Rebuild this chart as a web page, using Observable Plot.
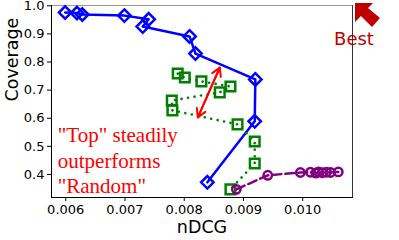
<!DOCTYPE html>
<html><head><meta charset="utf-8">
<script src="https://cdn.jsdelivr.net/npm/d3@7"></script>
<script src="https://cdn.jsdelivr.net/npm/@observablehq/plot@0.6"></script>
<style>body{margin:0;background:#fff}</style>
</head><body><div id="chart"></div>
<script>
const topX = [0.00599, 0.00619, 0.00628, 0.00699, 0.00740, 0.00730, 0.00809, 0.00819, 0.00920, 0.00919, 0.00839];
const topY = [0.976, 0.974, 0.969, 0.965, 0.952, 0.926, 0.891, 0.830, 0.738, 0.589, 0.372];
const randX = [0.00789, 0.00801, 0.00829, 0.00878, 0.00860, 0.00779, 0.00780, 0.00890, 0.00919, 0.00919, 0.00878];
const randY = [0.759, 0.745, 0.731, 0.713, 0.692, 0.663, 0.628, 0.578, 0.517, 0.439, 0.347];
const thirdX = [0.00888, 0.00941, 0.00996, 0.01013, 0.01022, 0.01027, 0.01033, 0.01040, 0.01047, 0.01060];
const thirdY = [0.347, 0.397, 0.407, 0.408, 0.405, 0.409, 0.406, 0.408, 0.407, 0.409];
const xTicks = [0.006, 0.007, 0.008, 0.009, 0.010];
const yTicks = [0.4, 0.5, 0.6, 0.7, 0.8, 0.9, 1.0];
const arrowEndsX = [0.00860, 0.00823];
const arrowEndsY = [0.780, 0.603];
const noteText = "\"Top\" steadily\noutperforms\n\"Random\"";
const noteX = 0.005865, noteY = 0.453;

const rec = (xs, ys) => xs.map((x, i) => ({x, y: ys[i]}));
const topD = rec(topX, topY), randD = rec(randX, randY), thirdD = rec(thirdX, thirdY);

const chart = Plot.plot({
  width: 399, height: 240,
  marginLeft: 51, marginRight: 47, marginTop: 5, marginBottom: 43,
  style: {fontFamily: "DejaVu Sans", fontSize: "13px", color: "black", background: "white"},
  x: {domain: [0.00576, 0.01084]},
  y: {domain: [0.318, 1.001]},
  marks: [
    Plot.axisX({ticks: xTicks, tickFormat: d3.format(".3f"), tickSize: 4, tickPadding: 3, label: null, stroke: "black"}),
    Plot.axisY({ticks: yTicks, tickFormat: d3.format(".1f"), tickSize: 4, tickPadding: 3, label: null, stroke: "black"}),
    Plot.frame({anchor: "top", stroke: "#999"}),
    Plot.frame({anchor: "right", stroke: "#333"}),
    Plot.frame({anchor: "left", stroke: "black"}),
    Plot.frame({anchor: "bottom", stroke: "black"}),
    Plot.text(["nDCG"], {frameAnchor: "bottom", dy: 30, fontSize: 17.5, lineAnchor: "middle"}),
    Plot.text(["Coverage"], {frameAnchor: "left", dx: -39, rotate: -90, fontSize: 17.5, lineAnchor: "middle"}),
    Plot.line(topD, {x: "x", y: "y", stroke: "blue", strokeWidth: 2.5}),
    Plot.dot(topD, {x: "x", y: "y", symbol: "diamond2", r: 5.6, stroke: "blue", strokeWidth: 2.5, fill: "none"}),
    Plot.line(randD, {x: "x", y: "y", stroke: "green", strokeWidth: 2.6, strokeDasharray: "0.1,6.5", strokeLinecap: "round"}),
    Plot.dot(randD, {x: "x", y: "y", symbol: "square2", r: 6.1, stroke: "green", strokeWidth: 2.5, fill: "none"}),
    Plot.line(thirdD, {x: "x", y: "y", stroke: "purple", strokeWidth: 2.5, strokeDasharray: "9,4"}),
    Plot.dot(thirdD, {x: "x", y: "y", r: 4.2, stroke: "purple", strokeWidth: 2.5, fill: "none"}),
    Plot.arrow([0], {x1: () => arrowEndsX[0], y1: () => arrowEndsY[0], x2: () => arrowEndsX[1], y2: () => arrowEndsY[1], stroke: "red", strokeWidth: 2, headLength: 7}),
    Plot.arrow([0], {x1: () => arrowEndsX[1], y1: () => arrowEndsY[1], x2: () => arrowEndsX[0], y2: () => arrowEndsY[0], stroke: "red", strokeWidth: 2, headLength: 7}),
    Plot.text([noteText], {x: () => noteX, y: () => noteY, text: d => d, textAnchor: "start", lineAnchor: "middle", lineHeight: 1.2, fontSize: 21, fill: "red", fontFamily: "Liberation Serif, Times New Roman, serif"})
  ]
});
document.getElementById("chart").appendChild(chart);

const svg = d3.select(chart);
svg.append("polygon")
  .attr("points", "355,3 373,3 368,8 380,18 372,27 361,16 355,22")
  .attr("fill", "#c00000");
svg.append("text")
  .attr("x", 354).attr("y", 45)
  .attr("font-family", "DejaVu Sans").attr("font-size", 18)
  .attr("fill", "#c00000")
  .text("Best");
</script>
</body></html>
